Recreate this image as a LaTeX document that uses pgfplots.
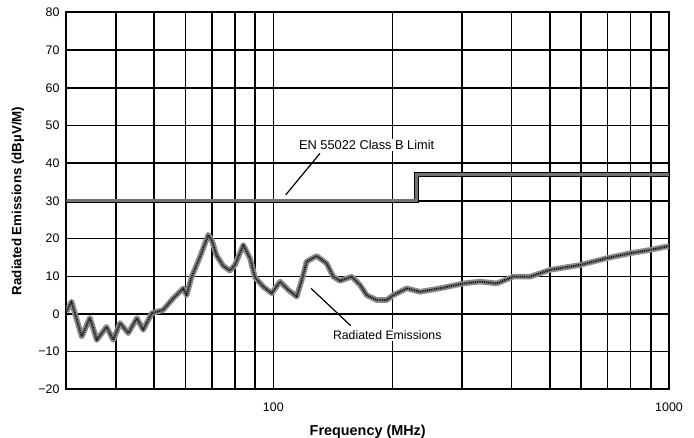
\documentclass[border=0pt]{standalone}
\usepackage{fontspec}
\setmainfont{Liberation Sans}
\usepackage{pgfplots}
\pgfplotsset{compat=1.18}
\begin{document}
\begin{tikzpicture}
\begin{axis}[
  scale only axis, width=451.95pt, height=282.75pt,
  xmode=log, xmin=30, xmax=1000, ymin=-20, ymax=80,
  xtick={100,1000}, xticklabels={100,1000},
  minor xtick={40,50,60,70,80,90,200,300,400,500,600,700,800,900},
  ytick={-20,-10,...,80},
  yticklabels={−20,−10,0,10,20,30,40,50,60,70,80},
  grid=both,
  major grid style={black, line width=1.1pt},
  minor grid style={black, line width=1.1pt},
  axis line style={black, line width=1.6pt},
  major tick length=0pt, minor tick length=0pt,
  tick label style={font=\fontsize{9.3}{11}\selectfont},
  yticklabel style={xshift=-1.7pt},
  xticklabel style={yshift=-6.4pt},
  xlabel={Frequency (MHz)}, ylabel={Radiated Emissions (dBµV/M)},
  every axis x label/.style={at={(axis description cs:0.5,-0.0928)}, anchor=north, inner sep=0pt, font=\bfseries\fontsize{10.8}{12}\selectfont},
  every axis y label/.style={at={(axis description cs:-0.0803,0.5)}, rotate=90, anchor=center, inner sep=0pt, font=\bfseries\fontsize{10}{12}\selectfont},
]
% limit line
\addplot[draw=black, line width=0.55pt, double=black!55, double distance=2.1pt] coordinates {(30,30) (230,30) (230,37) (1000,37)};
% emissions
\addplot[black!45, line width=4.2pt, line join=round] coordinates {
(30,0.6) (30.9,3.3) (32.8,-6) (34.4,-1) (35.8,-6.9) (37.9,-3.4) (39.4,-6.9) (41.0,-2.4) (43.0,-5.1) (45.2,-1.1) (46.9,-4.2) (49.3,0.2) (52.7,1.1) (55.9,4.2) (59.2,6.8) (60.4,5) (62.2,9.9) (65.3,15.2) (68.5,21) (69.9,19.6) (71.9,15.5) (74.7,12.8) (77.7,11.5) (80.0,13) (84.0,18.3) (87.3,14.8) (89.9,9.7) (94.4,7.2) (99.1,5.5) (104,8.6) (109.1,6.4) (114.6,4.6) (118,9) (121.4,13.9) (128.7,15.4) (136.4,13.4) (141.8,9.9) (147.4,8.8) (157.9,9.9) (165.6,7.7) (172.2,5) (182.5,3.7) (193.4,3.7) (201,5) (217.4,6.8) (234.9,5.9) (263.8,6.8) (302.1,8.1) (333.1,8.6) (367,8.1) (404,9.9) (445.5,9.9) (500.5,11.7) (596,13) (696,14.8) (797,16.1) (895.5,17) (987,17.9) (1000,18)
};
\addplot[black!90, line width=1.6pt, line join=round, dash pattern=on 0.8pt off 0.6pt] coordinates {
(30,0.6) (30.9,3.3) (32.8,-6) (34.4,-1) (35.8,-6.9) (37.9,-3.4) (39.4,-6.9) (41.0,-2.4) (43.0,-5.1) (45.2,-1.1) (46.9,-4.2) (49.3,0.2) (52.7,1.1) (55.9,4.2) (59.2,6.8) (60.4,5) (62.2,9.9) (65.3,15.2) (68.5,21) (69.9,19.6) (71.9,15.5) (74.7,12.8) (77.7,11.5) (80.0,13) (84.0,18.3) (87.3,14.8) (89.9,9.7) (94.4,7.2) (99.1,5.5) (104,8.6) (109.1,6.4) (114.6,4.6) (118,9) (121.4,13.9) (128.7,15.4) (136.4,13.4) (141.8,9.9) (147.4,8.8) (157.9,9.9) (165.6,7.7) (172.2,5) (182.5,3.7) (193.4,3.7) (201,5) (217.4,6.8) (234.9,5.9) (263.8,6.8) (302.1,8.1) (333.1,8.6) (367,8.1) (404,9.9) (445.5,9.9) (500.5,11.7) (596,13) (696,14.8) (797,16.1) (895.5,17) (987,17.9) (1000,18)
};
\node[font=\fontsize{9.6}{11}\selectfont, fill=white, inner sep=1pt] at (axis cs:172.2,44.8) {EN 55022 Class B Limit};
\draw[line width=0.9pt] (axis cs:131.2,42.6) -- (axis cs:107.5,31.6);
\node[font=\fontsize{9.2}{11}\selectfont, fill=white, inner sep=1pt] at (axis cs:194.1,-5.6) {Radiated Emissions};
\draw[line width=0.9pt] (axis cs:124.5,6.8) -- (axis cs:156.9,-3.1);
\end{axis}
\pgfresetboundingbox
\useasboundingbox (-49.8pt,-36.45pt) rectangle (470.7pt,292.05pt);
\end{tikzpicture}
\end{document}
